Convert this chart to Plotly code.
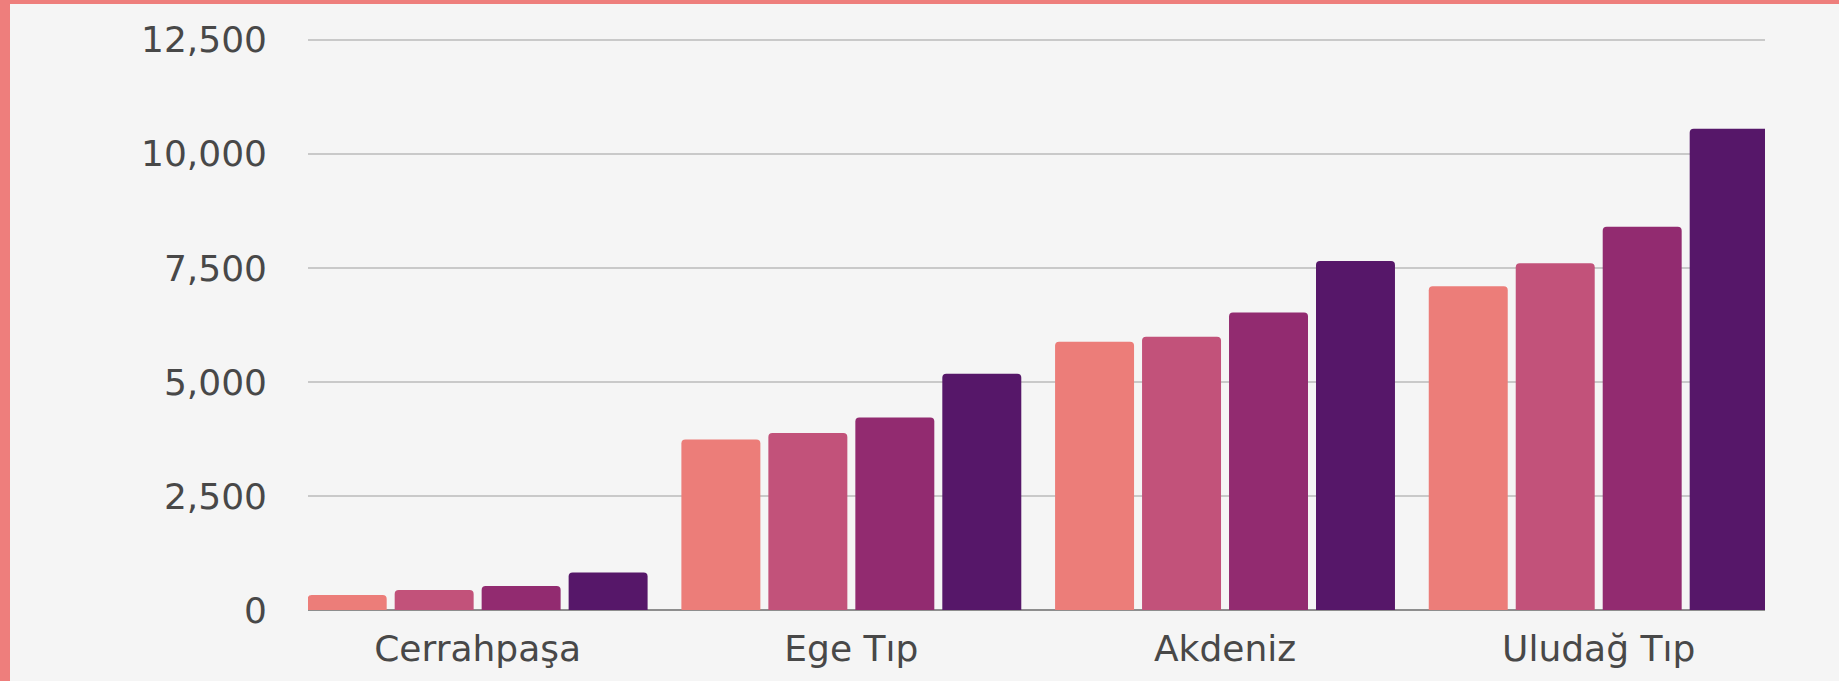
import plotly.graph_objects as go

categories = ["Cerrahpaşa", "Ege Tıp", "Akdeniz", "Uludağ Tıp"]
series_names = ["Seri 1", "Seri 2", "Seri 3", "Seri 4"]
series_1 = [330, 3740, 5880, 7100]
series_2 = [440, 3880, 5990, 7600]
series_3 = [525, 4220, 6520, 8400]
series_4 = [820, 5180, 7650, 10550]
y_tickvals = [0, 2500, 5000, 7500, 10000, 12500]
y_ticktext = ["0", "2,500", "5,000", "7,500", "10,000", "12,500"]

colors = ["#EC7D79", "#C2527A", "#922B70", "#561769"]

W, H = 1839, 681
L, R, T, B = 308, 74, 33, 71
pw = W - L - R
ph = H - T - B

fig = go.Figure()
for name, vals, c in zip(series_names, [series_1, series_2, series_3, series_4], colors):
    fig.add_trace(go.Bar(x=list(range(len(categories))), y=vals, name=name,
                         marker=dict(color=c, line=dict(width=0))))

font = dict(family="DejaVu Sans", size=36, color="#484848")

def px_x(p):
    return (p - L) / pw

def px_y(p):
    return (H - B - p) / ph

border = "#EE7E7C"
shapes = [
    dict(type="rect", xref="paper", yref="paper", x0=px_x(0), x1=px_x(10),
         y0=px_y(H), y1=px_y(0), fillcolor=border, line=dict(width=0), layer="above"),
    dict(type="rect", xref="paper", yref="paper", x0=px_x(0), x1=px_x(W),
         y0=px_y(4), y1=px_y(0), fillcolor=border, line=dict(width=0), layer="above"),
]

fig.update_layout(
    width=W, height=H,
    margin=dict(l=L, r=R, t=T, b=B, pad=0),
    paper_bgcolor="#F5F5F5", plot_bgcolor="#F5F5F5",
    barmode="group", bargap=0.069, bargroupgap=0.092, barcornerradius=4,
    showlegend=False,
    font=font,
    shapes=shapes,
    xaxis=dict(range=[-0.454, 3.445], tickvals=list(range(len(categories))),
               ticktext=categories, showgrid=False, zeroline=False,
               showline=False, ticks="", ticklabelstandoff=14, tickfont=font),
    yaxis=dict(range=[0, 12650], tickvals=y_tickvals, ticktext=y_ticktext,
               showgrid=True, gridcolor="#C9C9C9", gridwidth=2,
               zeroline=True, zerolinecolor="#8E8E8E", zerolinewidth=2,
               showline=False, ticks="", ticklabelstandoff=40, tickfont=font),
)

fig.write_html("out.html", config={"displayModeBar": False},
               post_script="document.body.style.margin='0';")
